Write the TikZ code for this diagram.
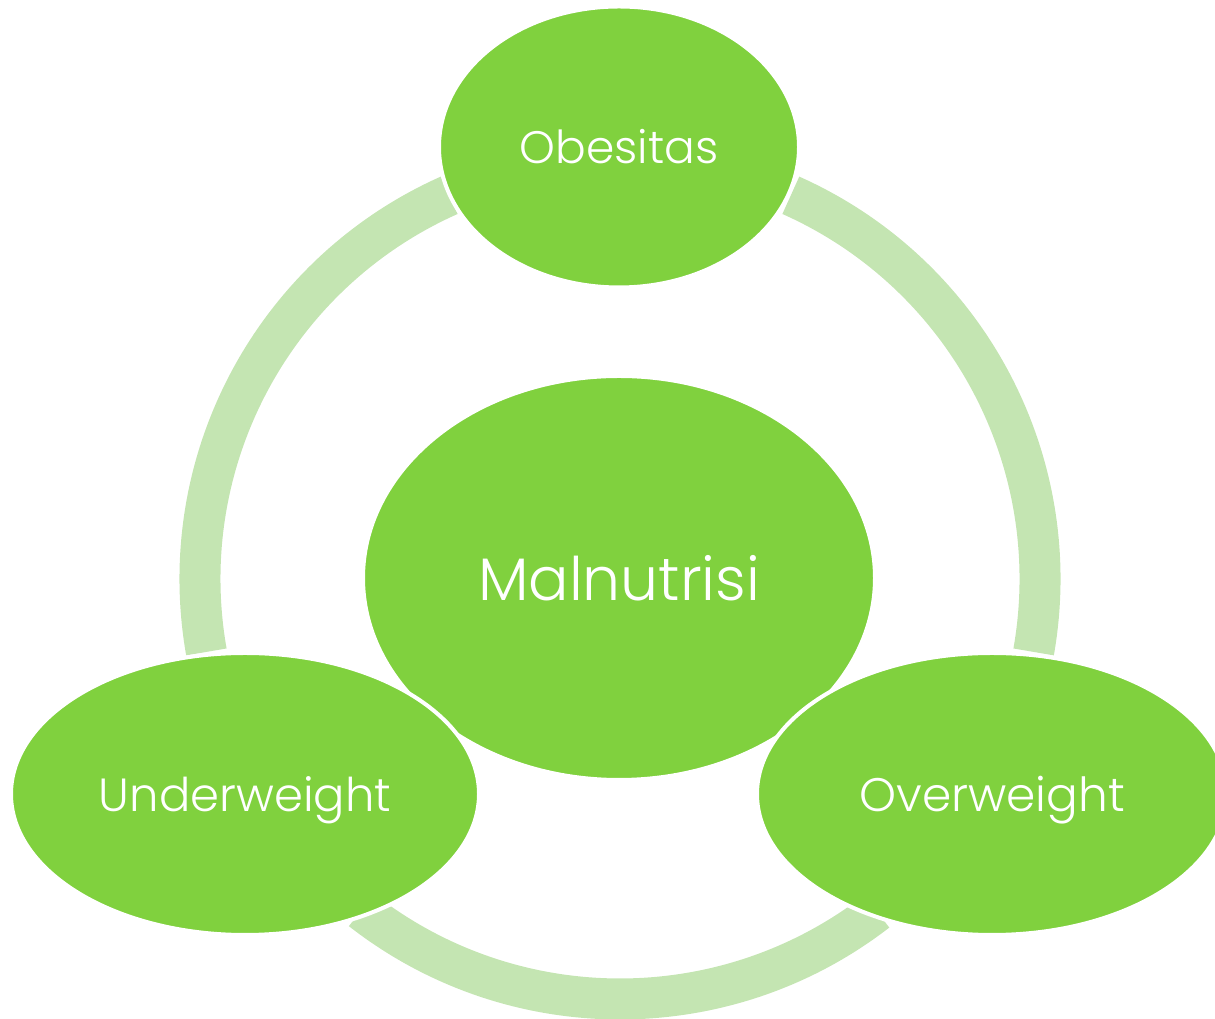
\documentclass[tikz,border=0pt]{standalone}
\usepackage{fontspec}
\setmainfont{Poppins}[UprightFont={* Light}]
\usetikzlibrary{shapes.geometric}
\definecolor{leaf}{RGB}{128,209,62}
\definecolor{ringc}{RGB}{196,229,178}
\begin{document}
\begin{tikzpicture}[x=1pt,y=1pt,
  blob/.style={ellipse, fill=leaf, draw=white, line width=4pt, inner sep=0pt, text=white},
  ringarc/.style={draw=ringc, line width=41pt, line cap=butt}]
\useasboundingbox (0,0) rectangle (1215,1019);
\coordinate (c) at (620,440);
% ring segments
\draw[ringarc] (c) ++(114:420) arc[start angle=114, end angle=190, radius=420];
\draw[ringarc] (c) ++(-10:420) arc[start angle=-10, end angle=66, radius=420];
\draw[ringarc] (c) ++(-128:420) arc[start angle=-128, end angle=-52.3, radius=420];
% ellipses
\node[blob, minimum width=512pt, minimum height=404pt, font=\fontsize{60}{66}\selectfont] (mal) at (619,441) {Malnutrisi};
\node[blob, minimum width=360pt, minimum height=281pt, font=\fontsize{45.5}{50}\selectfont] (obe) at (619,872) {Obesitas};
\node[blob, minimum width=468pt, minimum height=282pt, text depth=0pt, font=\fontsize{46.5}{50}\selectfont] (und) at (245,225) {Underweight};
\node[blob, minimum width=470pt, minimum height=282pt, text depth=0pt, font=\fontsize{47}{50}\selectfont] (ove) at (992,225) {Overweight};
\end{tikzpicture}
\end{document}
